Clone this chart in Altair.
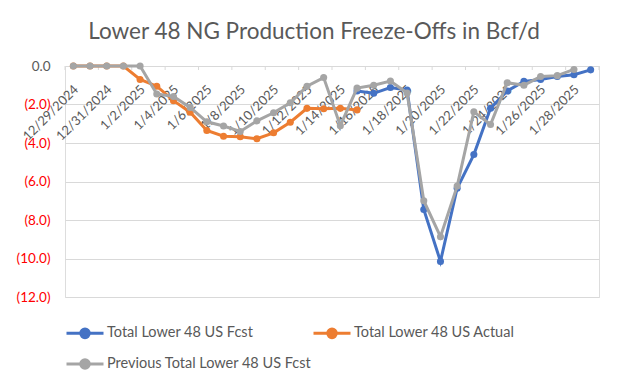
import altair as alt
import pandas as pd

dates = ["12/29/2024", "12/30/2024", "12/31/2024", "1/1/2025", "1/2/2025", "1/3/2025",
         "1/4/2025", "1/5/2025", "1/6/2025", "1/7/2025", "1/8/2025", "1/9/2025",
         "1/10/2025", "1/11/2025", "1/12/2025", "1/13/2025", "1/14/2025", "1/15/2025",
         "1/16/2025", "1/17/2025", "1/18/2025", "1/19/2025", "1/20/2025", "1/21/2025",
         "1/22/2025", "1/23/2025", "1/24/2025", "1/25/2025", "1/26/2025", "1/27/2025",
         "1/28/2025", "1/29/2025"]

fcst = [None] * 17 + [-1.30, -1.42, -1.12, -1.25, -7.45, -10.15, -6.35, -4.60, -2.20,
                      -1.30, -0.80, -0.70, -0.55, -0.45, -0.20]
actual = [0.0, 0.0, 0.0, 0.0, -0.70, -1.05, -1.80, -2.40, -3.35, -3.65, -3.67, -3.78,
          -3.47, -2.92, -2.20, -2.22, -2.20, -2.28] + [None] * 14
prev = [0.0, 0.0, 0.0, 0.0, 0.0, -1.45, -1.58, -2.15, -2.90, -3.12, -3.40, -2.85,
        -2.43, -1.91, -1.05, -0.60, -3.10, -1.15, -1.00, -0.78, -1.40, -7.00, -8.87,
        -6.24, -2.38, -3.04, -0.87, -1.00, -0.55, -0.50, -0.18, None]

series_names = ["Total Lower 48 US Fcst", "Total Lower 48 US Actual",
                "Previous Total Lower 48 US Fcst"]
series_colors = ["#4472C4", "#ED7D31", "#A5A5A5"]
y_ticks = [0, -2, -4, -6, -8, -10, -12]
label_dates = dates[::2]

rows = []
for name, vals in zip(series_names, [fcst, actual, prev]):
    for d, v in zip(dates, vals):
        if v is not None:
            rows.append({"date": d, "value": v, "series": name})
df = pd.DataFrame(rows)

W, H = 534, 231
step = W / len(dates)
FONT = "Lato"
GREY = "#595959"

x_enc = alt.X(
    "date:N",
    sort=dates,
    scale=alt.Scale(type="point", domain=dates, padding=0.5),
    axis=alt.Axis(
        values=label_dates, orient="bottom", offset=-H, labelAngle=-45,
        labelAlign="right", labelBaseline="middle", labelPadding=21, labelOffset=2.5,
        labelFont=FONT, labelFontSize=13, labelColor=GREY, ticks=False,
        domain=False, grid=False, title=None, labelOverlap=False,
    ),
)
y_enc = alt.Y(
    "value:Q",
    scale=alt.Scale(domain=[-12, 0], nice=False, zero=False),
    axis=alt.Axis(
        values=y_ticks, grid=True, gridColor="#D9D9D9", gridWidth=1,
        domain=False, ticks=False, labelPadding=15, labelFont=FONT,
        labelFontSize=13.5,
        labelColor={"condition": {"test": "datum.value < 0", "value": "#FF0000"},
                    "value": GREY},
        labelExpr="datum.value < 0 ? '(' + format(-datum.value, '.1f') + ')' : format(datum.value, '.1f')",
        title=None,
    ),
)

sym_path = ("M-1,0L1,0M0.23,0A0.23,0.23,0,1,1,-0.23,0"
            "A0.23,0.23,0,1,1,0.23,0Z")
color_enc = alt.Color(
    "series:N",
    scale=alt.Scale(domain=series_names, range=series_colors),
    legend=alt.Legend(
        title=None, orient="none", legendX=0, legendY=247, direction="horizontal",
        columns=2, symbolType=sym_path, symbolSize=1369, symbolStrokeWidth=3,
        labelFont=FONT, labelFontSize=14.5, labelColor=GREY, labelOffset=2,
        columnPadding=-9, rowPadding=-7, padding=0, labelLimit=400,
    ),
)

layers = []
tick_df = pd.DataFrame({"date": label_dates})
last_df = pd.DataFrame({"date": [dates[-1]]})
layers.append(
    alt.Chart(tick_df).mark_rule(color="#D9D9D9", xOffset=-step / 2).encode(
        x=x_enc, y=alt.value(0), y2=alt.value(4))
)
layers.append(
    alt.Chart(last_df).mark_rule(color="#D9D9D9", xOffset=step / 2).encode(
        x=x_enc, y=alt.value(0), y2=alt.value(4))
)
for name in series_names:
    base = alt.Chart(df).transform_filter(alt.datum.series == name)
    layers.append(base.mark_line(strokeWidth=3).encode(x=x_enc, y=y_enc, color=color_enc))
    layers.append(base.mark_circle(size=50, opacity=1).encode(x=x_enc, y=y_enc, color=color_enc))

chart = alt.layer(*layers).properties(
    width=W, height=H,
    title=alt.TitleParams(
        text="Lower 48 NG Production Freeze-Offs in Bcf/d", fontSize=22.5, font=FONT,
        color=GREY, fontWeight="normal", anchor="middle", dx=-18, offset=16,
    ),
    autosize=alt.AutoSizeParams(type="none"),
    padding={"left": 57, "top": 58, "right": 17, "bottom": 81},
).configure_view(stroke=None).configure(background="white")

chart.save("out.html", embed_options={"renderer": "svg", "actions": False})
